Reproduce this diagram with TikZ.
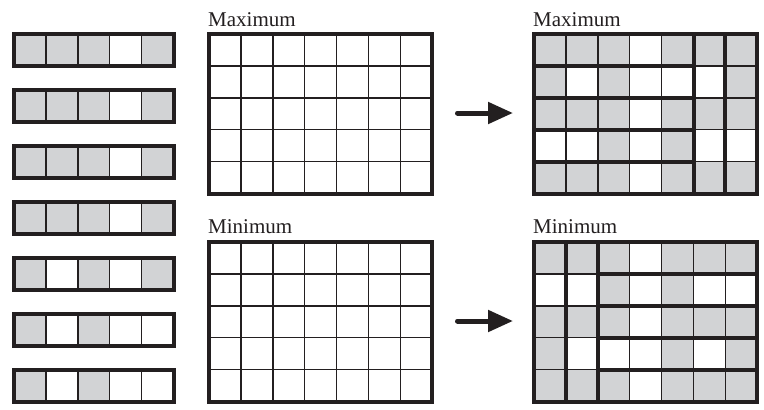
\documentclass[tikz,border=0pt]{standalone}
\usepackage{fontspec}
\setmainfont{Liberation Serif}
\usetikzlibrary{arrows.meta}
\definecolor{cellgray}{RGB}{210,211,213}
\definecolor{ink}{RGB}{35,31,32}
\tikzset{
  thingrid/.style={line width=1.4pt, draw=ink},
  framebox/.style={line width=4pt, draw=ink},
  sepline/.style={line width=4pt, draw=ink},
  lbl/.style={anchor=base west, inner sep=0pt, font=\fontsize{21}{25}\selectfont, text=ink},
  bigarrow/.style={line width=5pt, draw=ink, fill=ink, line cap=round, -{Triangle[length=25pt,width=21pt]}}
}
\def\c{31.9}
% #1 x, #2 y, #3 number of columns, #4 list of rows (each a list of 0/1)
\newcommand\cellgrid[4]{%
  \foreach \rowpat [count=\r from 0] in {#4}{%
    \foreach \v [count=\i from 0] in \rowpat {%
      \ifnum\v=1 \fill[cellgray] (#1+\i*\c, #2+\r*\c) rectangle ++(\c,\c);\fi
    }%
  }%
}
\begin{document}
\begin{tikzpicture}[x=1pt,y=-1pt]
\useasboundingbox (0,0) rectangle (764,410);
\fill[white] (0,0) rectangle (764,410);

% ---- left strips ----
\foreach \pat [count=\k from 0] in {{1,1,1,0,1},{1,1,1,0,1},{1,1,1,0,1},{1,1,1,0,1},{1,0,1,0,1},{1,0,1,0,0},{1,0,1,0,0}}{
  \foreach \v [count=\i from 0] in \pat {
    \ifnum\v=1 \fill[cellgray] (14+\i*\c, 34+56*\k) rectangle ++(\c,\c);\fi
  }
  \foreach \i in {1,...,4}{
    \draw[thingrid] (14+\i*\c, 34+56*\k) -- ++(0,\c);
  }
  \draw[framebox] (14, 34+56*\k) rectangle ++(5*\c,\c);
}

% ---- middle empty grids ----
\foreach \gy in {34,242}{
  \foreach \i in {1,...,6}{ \draw[thingrid] (209+\i*\c, \gy) -- ++(0,5*\c); }
  \foreach \j in {1,...,4}{ \draw[thingrid] (209, \gy+\j*\c) -- ++(7*\c,0); }
  \draw[framebox] (209,\gy) rectangle ++(7*\c,5*\c);
}

% ---- right grids: fills ----
\cellgrid{534}{34}{7}{{1,1,1,0,1,1,1},{1,0,1,0,0,0,1},{1,1,1,0,1,1,1},{0,0,1,0,1,0,0},{1,1,1,0,1,1,1}}
\cellgrid{534}{242}{7}{{1,1,1,0,1,1,1},{0,0,1,0,1,0,0},{1,1,1,0,1,1,1},{1,0,0,0,1,0,1},{1,1,1,0,1,1,1}}
\foreach \gy in {34,242}{
  \foreach \i in {1,...,6}{ \draw[thingrid] (534+\i*\c, \gy) -- ++(0,5*\c); }
  \foreach \j in {1,...,4}{ \draw[thingrid] (534, \gy+\j*\c) -- ++(7*\c,0); }
}
% Maximum separators
\draw[sepline] (534+5*\c,34) -- ++(0,5*\c);
\draw[sepline] (534+6*\c,34) -- ++(0,5*\c);
\foreach \j in {1,...,4}{ \draw[sepline] (534, 34+\j*\c) -- ++(5*\c,0); }
% Minimum separators
\draw[sepline] (534+\c,242) -- ++(0,5*\c);
\draw[sepline] (534+2*\c,242) -- ++(0,5*\c);
\foreach \j in {1,...,4}{ \draw[sepline] (534+2*\c, 242+\j*\c) -- ++(5*\c,0); }
\draw[framebox] (534,34) rectangle ++(7*\c,5*\c);
\draw[framebox] (534,242) rectangle ++(7*\c,5*\c);

% ---- labels ----
\node[lbl] (lmax1) at (208,26) {Maximum};
\node[lbl] (lmin1) at (208,233) {Minimum};
\node[lbl] (lmax2) at (533,26) {Maximum};
\node[lbl] (lmin2) at (533,233) {Minimum};

% ---- arrows ----
\coordinate (a1s) at (457.5,113);
\coordinate (a1e) at (513,113);
\coordinate (a2s) at (457.5,321);
\coordinate (a2e) at (513,321);
\draw[bigarrow] (a1s) -- (a1e);
\draw[bigarrow] (a2s) -- (a2e);
\end{tikzpicture}
\end{document}
